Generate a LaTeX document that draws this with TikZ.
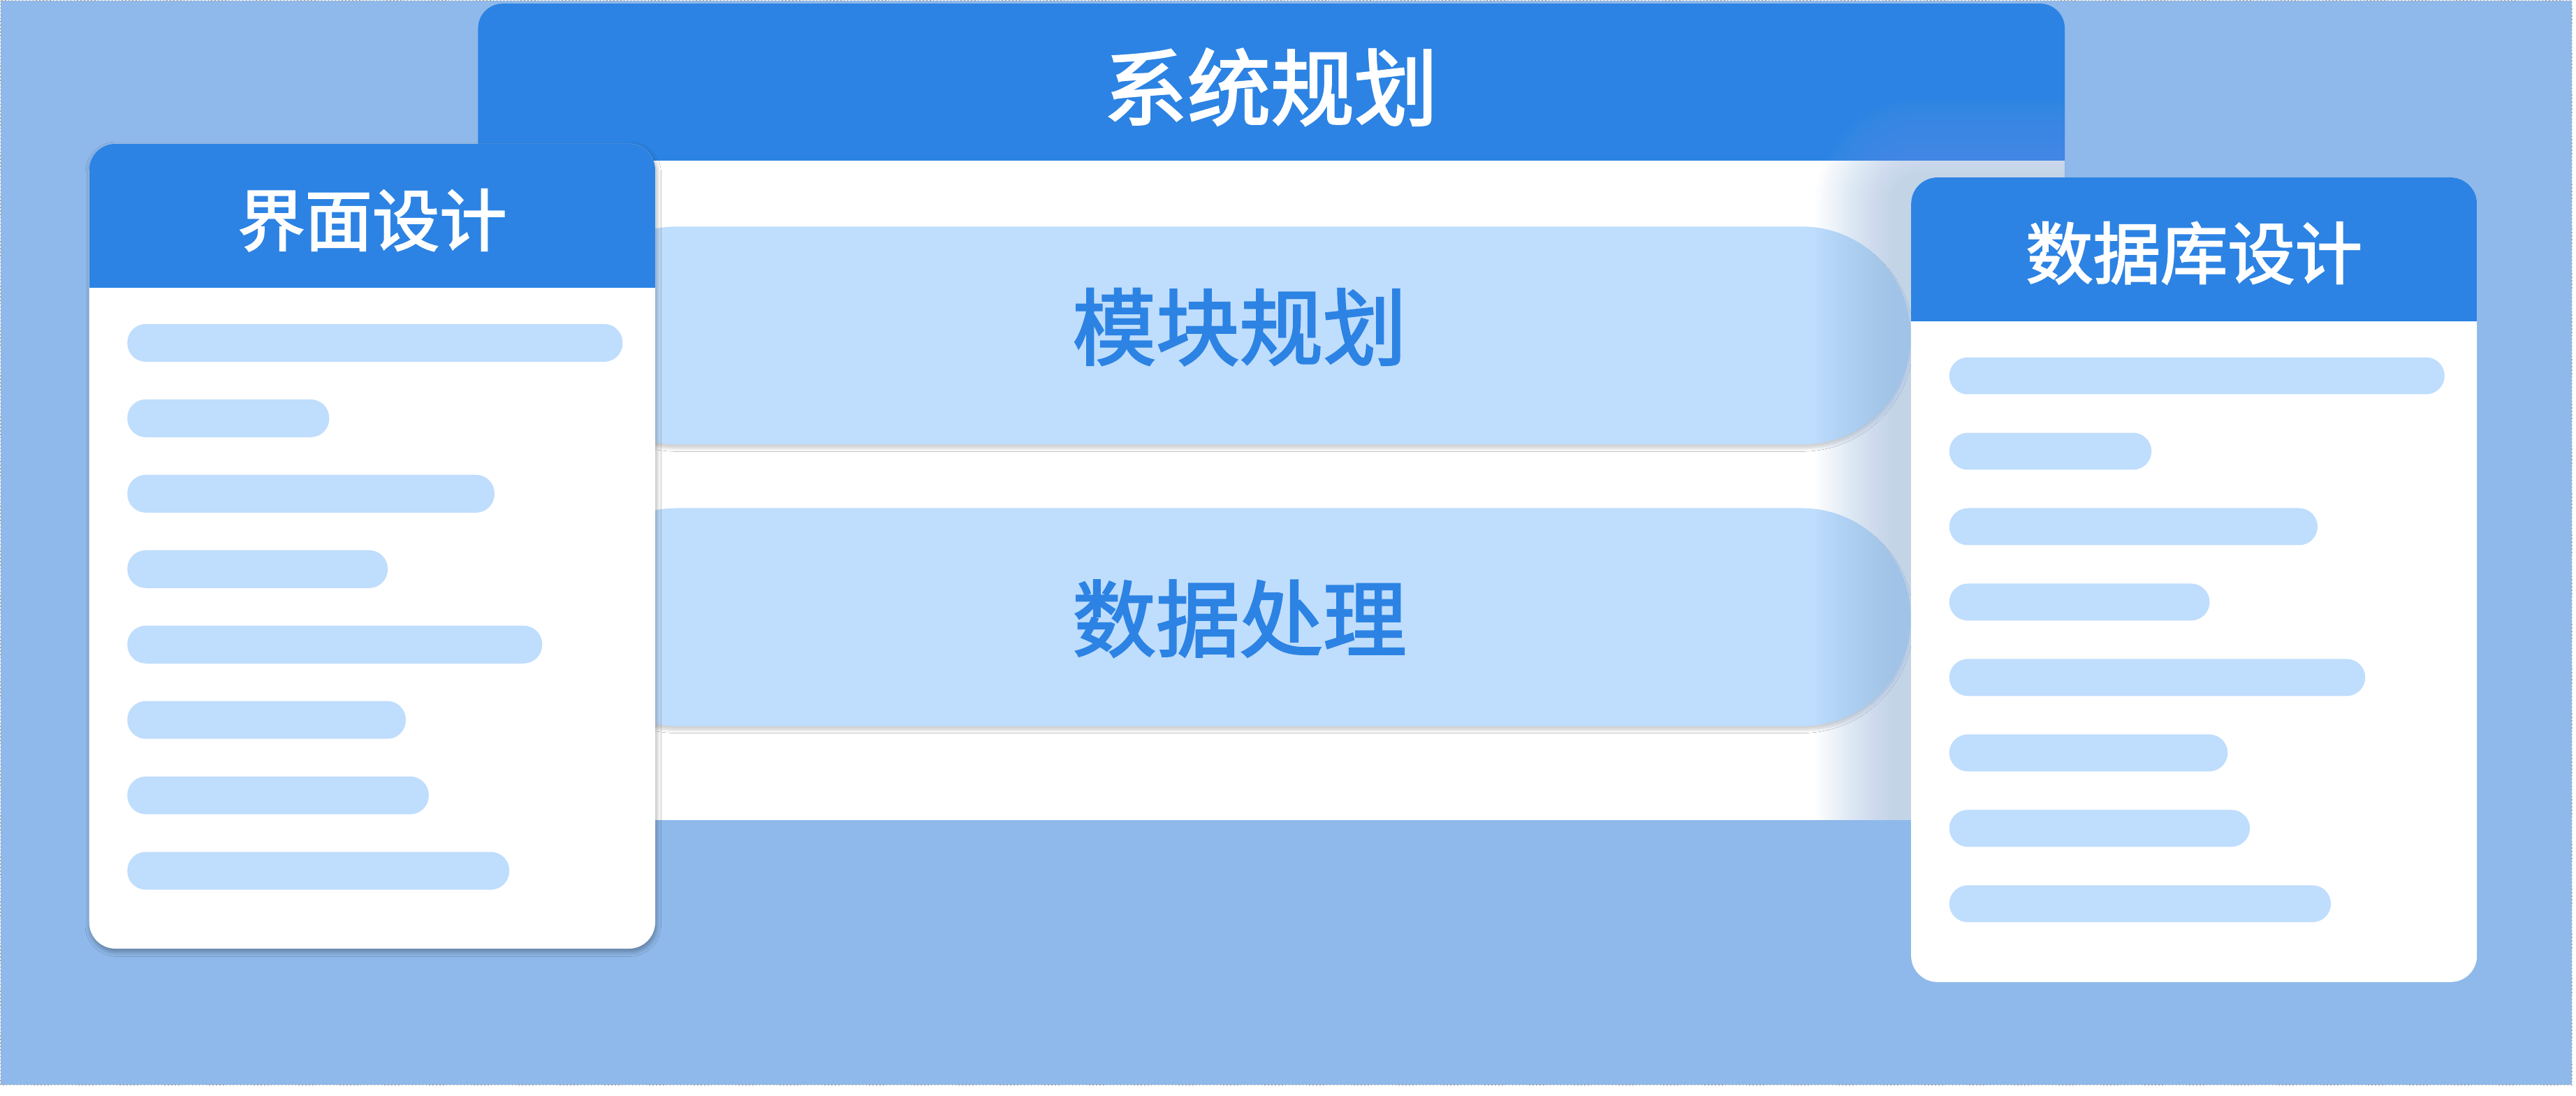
\documentclass[tikz,border=0pt]{standalone}
\usepackage{fontspec}
\newfontfamily\cjk[FakeBold=2.2]{Noto Sans CJK SC}
\usetikzlibrary{shadows.blur}
\definecolor{bg}{HTML}{8FB9EA}
\definecolor{hdr}{HTML}{2C83E3}
\definecolor{pill}{HTML}{BFDDFD}
\definecolor{glow}{HTML}{88B0E7}
\definecolor{frame}{HTML}{A8A8A8}
\tikzset{
  hdrtext/.style={text=white, font=\cjk\fontsize{27.4pt}{32pt}\selectfont, inner sep=0pt},
  bigtext/.style={font=\cjk\fontsize{34pt}{40pt}\selectfont, inner sep=0pt},
  bar/.style={fill=pill, rounded corners=0.265cm},
  bigpill/.style={fill=pill, rounded corners=1.555cm,
    blur shadow={shadow xshift=0pt, shadow yshift=-1.6pt, shadow opacity=18, shadow blur radius=1.2pt, shadow blur steps=6}},
  cardshadow/.style={blur shadow={shadow xshift=0.4pt, shadow yshift=-1.2pt, shadow opacity=35, shadow blur radius=2pt, shadow blur steps=8}},
  cardshape/.style={rounded corners=0.376cm},
}
\begin{document}
\begin{tikzpicture}[x=0.02352cm, y=-0.02352cm]
\useasboundingbox (0,0) rectangle (1568,666.67);
\fill[white] (0,0) rectangle (1568,666.67);
\fill[bg] (0.4,0.4) rectangle (1565.5,660.3);
\draw[frame, line width=0.4pt, densely dotted] (0.4,0.4) rectangle (1565.5,660.3);

% main panel
\fill[hdr, rounded corners=0.353cm] (291,2.2) rectangle (1256.8,140);
\fill[white] (291,97.8) rectangle (1256.8,499.1);
\node[bigtext, text=white] (sys) at (773.5,53) {系统规划};

% pills
\fill[bigpill] (345.5,137.9) rectangle (1163,270.6);
\node[bigtext, text=hdr] (mod) at (754.5,199) {模块规划};
\fill[bigpill] (345.5,309.3) rectangle (1163,442);
\node[bigtext, text=hdr] (dat) at (754.5,376.5) {数据处理};

% soft glow/shadow of database card on the main panel
\begin{scope}
\clip (291,2.2) rectangle (1256.8,499.1);
\foreach \k in {1,...,24} {
  \pgfmathsetmacro\rr{(16+2*\k)*0.02352}
  \fill[glow, opacity=0.025, rounded corners=\rr cm] ({1153-2*\k},{108-2*\k}) rectangle ({1507.7+2*\k},{597.7+2*\k});
}
\end{scope}

% left card
\fill[white, cardshadow, cardshape] (54.3,87.5) rectangle (398.8,577.4);
\begin{scope}
\clip[cardshape] (54.3,87.5) rectangle (398.8,577.4);
\fill[hdr] (54.3,87.5) rectangle (398.8,175);
\end{scope}
\node[hdrtext] (ui) at (226.6,134) {界面设计};
\foreach \e [count=\i from 0] in {379,200.4,301,236,330,247,261,310}
  \fill[bar] (77.5,{197.2+45.9*\i}) rectangle (\e,{220.2+45.9*\i});

% right card
\fill[white, cardshape] (1163.3,108) rectangle (1507.7,597.7);
\begin{scope}
\clip[cardshape] (1163.3,108) rectangle (1507.7,597.7);
\fill[hdr] (1163.3,108) rectangle (1507.7,195.6);
\end{scope}
\node[hdrtext] (db) at (1335.5,154) {数据库设计};
\foreach \e [count=\i from 0] in {1488,1309.6,1410.7,1345,1439.7,1356,1369.5,1418.8}
  \fill[bar] (1186.5,{217.5+45.9*\i}) rectangle (\e,{240+45.9*\i});
\end{tikzpicture}
\end{document}
